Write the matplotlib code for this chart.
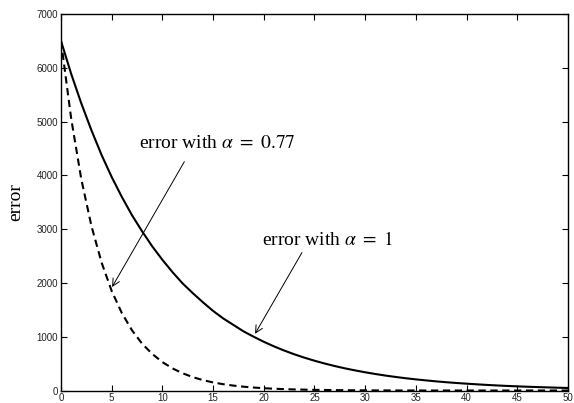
import matplotlib
matplotlib.use("Agg")
import matplotlib.pyplot as plt

# values (iteration vs. error)
iters = list(range(0, 51))
err_alpha_1 = [6500, 5890, 5340, 4840, 4380, 3970, 3600, 3260, 2960, 2680,
               2430, 2200, 1990, 1810, 1640, 1480, 1340, 1220, 1100, 1000,
               906, 821, 744, 674, 611, 554, 502, 455, 412, 374,
               339, 307, 278, 252, 228, 207, 188, 170, 154, 140,
               127, 115, 104, 94, 85, 77, 70, 64, 58, 52, 47]
err_alpha_077 = [6500, 5060, 3930, 3060, 2380, 1850, 1440, 1120, 870, 680,
                 528, 411, 320, 249, 193, 150, 117, 91, 71, 55,
                 43, 33, 26, 20, 16, 12, 10, 7, 6, 4,
                 3, 2, 2, 1, 1, 1, 0, 0, 0, 0,
                 0, 0, 0, 0, 0, 0, 0, 0, 0, 0, 0]

plt.rcParams['mathtext.fontset'] = 'stix'

fig = plt.figure(figsize=(5.74, 4.03), dpi=100)
ax = fig.add_axes([0.1063, 0.031, 0.8832, 0.934])

ax.plot(iters, err_alpha_1, color='black', lw=1.5)
ax.plot(iters, err_alpha_077, color='black', lw=1.5, linestyle=(0, (3.5, 2.2)))

ax.set_xlim(0, 50)
ax.set_ylim(0, 7000)
ax.set_xticks(range(0, 51, 5))
ax.set_yticks(range(0, 7001, 1000))
ax.tick_params(direction='in', top=True, right=True, length=4, width=0.8,
               labelsize=7, pad=2, labelcolor='#222222')
for lab in ax.get_xticklabels() + ax.get_yticklabels():
    lab.set_family('Liberation Sans')
for sp in ax.spines.values():
    sp.set_linewidth(1.0)

ax.set_ylabel('error', family='Liberation Serif', fontsize=14, labelpad=9)

# annotations
ax.text(15.4, 4600, r'error with $\alpha\ =\ 0.77$', family='Liberation Serif',
        fontsize=14, ha='center', va='center')
ax.annotate('', xy=(4.9, 1880), xytext=(12.3, 4300),
            arrowprops=dict(arrowstyle='->', color='black', lw=0.7,
                            mutation_scale=13))
ax.text(26.3, 2800, r'error with $\alpha\ =\ 1$', family='Liberation Serif',
        fontsize=14, ha='center', va='center')
ax.annotate('', xy=(19.0, 1010), xytext=(23.9, 2610),
            arrowprops=dict(arrowstyle='->', color='black', lw=0.7,
                            mutation_scale=13))

fig.savefig('out.png', dpi=100)
